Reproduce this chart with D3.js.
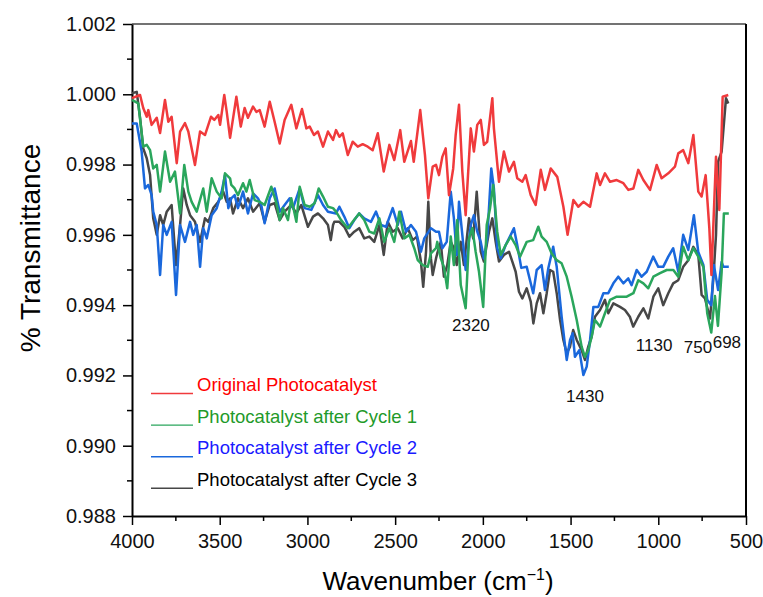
<!DOCTYPE html>
<html>
<head>
<meta charset="utf-8">
<script src="https://cdn.jsdelivr.net/npm/d3@7"></script>
<style>
  body { margin: 0; background: #fff; }
  text { font-family: Arial, "Liberation Sans", sans-serif; }
</style>
</head>
<body>
<svg id="chart"></svg>
<script>
// [wavenumber, transmittance]
var original = [[4000,0.99989],[3954,0.99998],[3936,0.99961],[3916,0.99936],[3907,0.99955],[3888,0.99913],[3859,0.99933],[3840,0.99890],[3812,0.99984],[3793,0.99922],[3774,0.99936],[3745,0.99804],[3726,0.99894],[3698,0.99918],[3679,0.99894],[3641,0.99799],[3612,0.99894],[3584,0.99884],[3550,0.99936],[3531,0.99927],[3508,0.99941],[3498,0.99913],[3474,0.99998],[3460,0.99950],[3441,0.99876],[3405,0.99993],[3380,0.99908],[3358,0.99961],[3339,0.99933],[3310,0.99965],[3291,0.99950],[3272,0.99955],[3244,0.99908],[3215,0.99979],[3187,0.99922],[3158,0.99860],[3130,0.99927],[3092,0.99970],[3063,0.99903],[3031,0.99958],[3006,0.99903],[2987,0.99908],[2963,0.99884],[2940,0.99894],[2911,0.99851],[2883,0.99894],[2854,0.99870],[2837,0.99898],[2818,0.99879],[2799,0.99889],[2770,0.99827],[2742,0.99865],[2713,0.99851],[2685,0.99858],[2656,0.99851],[2628,0.99841],[2599,0.99889],[2565,0.99780],[2533,0.99856],[2505,0.99813],[2471,0.99898],[2448,0.99808],[2410,0.99867],[2394,0.99808],[2357,0.99955],[2330,0.99827],[2311,0.99704],[2286,0.99794],[2267,0.99799],[2250,0.99770],[2231,0.99822],[2212,0.99846],[2193,0.99713],[2169,0.99789],[2155,0.99884],[2136,0.99970],[2117,0.99780],[2098,0.99656],[2069,0.99903],[2051,0.99837],[2032,0.99913],[2012,0.99927],[1994,0.99856],[1975,0.99865],[1946,0.99989],[1937,0.99903],[1908,0.99751],[1880,0.99837],[1851,0.99780],[1823,0.99808],[1804,0.99761],[1775,0.99751],[1756,0.99770],[1727,0.99713],[1699,0.99685],[1670,0.99785],[1646,0.99728],[1613,0.99789],[1576,0.99765],[1541,0.99680],[1517,0.99600],[1484,0.99699],[1456,0.99680],[1427,0.99694],[1389,0.99680],[1351,0.99775],[1332,0.99742],[1304,0.99775],[1275,0.99751],[1237,0.99756],[1199,0.99747],[1171,0.99728],[1142,0.99732],[1114,0.99785],[1085,0.99756],[1047,0.99728],[1009,0.99799],[981,0.99761],[943,0.99775],[905,0.99794],[886,0.99832],[858,0.99841],[829,0.99804],[800,0.99884],[772,0.99723],[753,0.99709],[730,0.99770],[709,0.99619],[697,0.99486],[671,0.99822],[652,0.99671],[633,0.99993],[601,0.99998]];

var cycle1 = [[4000,0.99984],[3964,0.99974],[3936,0.99851],[3916,0.99856],[3897,0.99841],[3879,0.99789],[3859,0.99799],[3840,0.99723],[3812,0.99837],[3783,0.99751],[3755,0.99780],[3726,0.99661],[3702,0.99799],[3679,0.99723],[3660,0.99694],[3631,0.99666],[3594,0.99732],[3574,0.99666],[3546,0.99761],[3517,0.99723],[3489,0.99704],[3470,0.99775],[3441,0.99761],[3434,0.99742],[3415,0.99732],[3396,0.99713],[3367,0.99747],[3348,0.99723],[3329,0.99756],[3301,0.99699],[3272,0.99694],[3244,0.99685],[3206,0.99737],[3177,0.99690],[3158,0.99642],[3139,0.99676],[3111,0.99642],[3092,0.99704],[3063,0.99637],[3044,0.99737],[3016,0.99685],[2987,0.99680],[2959,0.99690],[2936,0.99732],[2911,0.99709],[2883,0.99680],[2854,0.99676],[2837,0.99666],[2808,0.99642],[2770,0.99619],[2742,0.99637],[2705,0.99661],[2676,0.99642],[2647,0.99609],[2619,0.99604],[2590,0.99647],[2562,0.99580],[2533,0.99619],[2505,0.99580],[2476,0.99666],[2448,0.99590],[2419,0.99600],[2391,0.99562],[2371,0.99528],[2343,0.99514],[2314,0.99509],[2296,0.99547],[2267,0.99562],[2260,0.99580],[2240,0.99533],[2222,0.99509],[2203,0.99448],[2183,0.99595],[2165,0.99514],[2146,0.99642],[2126,0.99457],[2098,0.99391],[2079,0.99590],[2060,0.99619],[2041,0.99552],[2022,0.99495],[1998,0.99395],[1978,0.99628],[1959,0.99676],[1941,0.99742],[1918,0.99609],[1898,0.99543],[1870,0.99571],[1841,0.99595],[1813,0.99571],[1788,0.99538],[1750,0.99580],[1713,0.99585],[1684,0.99623],[1665,0.99595],[1636,0.99580],[1608,0.99547],[1579,0.99528],[1551,0.99519],[1522,0.99481],[1494,0.99424],[1465,0.99358],[1437,0.99282],[1418,0.99253],[1399,0.99272],[1380,0.99310],[1361,0.99358],[1332,0.99339],[1304,0.99377],[1275,0.99415],[1237,0.99424],[1180,0.99424],[1142,0.99434],[1114,0.99471],[1085,0.99462],[1057,0.99448],[1028,0.99481],[990,0.99491],[952,0.99500],[914,0.99500],[886,0.99481],[858,0.99566],[829,0.99528],[800,0.99562],[772,0.99538],[743,0.99509],[721,0.99377],[698,0.99322],[677,0.99426],[660,0.99341],[639,0.99493],[626,0.99661],[598,0.99661]];

var cycle2 = [[4000,0.99917],[3973,0.99917],[3945,0.99837],[3926,0.99732],[3907,0.99742],[3888,0.99713],[3879,0.99666],[3859,0.99628],[3840,0.99486],[3822,0.99628],[3802,0.99600],[3774,0.99637],[3749,0.99429],[3726,0.99628],[3698,0.99580],[3669,0.99637],[3651,0.99600],[3631,0.99628],[3612,0.99509],[3594,0.99619],[3574,0.99590],[3546,0.99656],[3517,0.99676],[3489,0.99723],[3470,0.99770],[3451,0.99676],[3434,0.99704],[3415,0.99713],[3396,0.99676],[3367,0.99723],[3339,0.99661],[3310,0.99718],[3282,0.99704],[3263,0.99685],[3244,0.99633],[3215,0.99704],[3187,0.99732],[3158,0.99666],[3130,0.99685],[3101,0.99704],[3082,0.99676],[3044,0.99732],[3016,0.99676],[2978,0.99671],[2940,0.99713],[2911,0.99685],[2883,0.99666],[2837,0.99661],[2818,0.99680],[2790,0.99652],[2761,0.99619],[2733,0.99642],[2705,0.99661],[2676,0.99647],[2638,0.99637],[2609,0.99666],[2581,0.99628],[2552,0.99623],[2514,0.99676],[2485,0.99628],[2467,0.99666],[2438,0.99609],[2410,0.99628],[2381,0.99609],[2353,0.99552],[2334,0.99590],[2296,0.99619],[2267,0.99609],[2250,0.99609],[2231,0.99562],[2206,0.99580],[2183,0.99723],[2165,0.99647],[2149,0.99543],[2136,0.99694],[2117,0.99600],[2098,0.99500],[2069,0.99628],[2051,0.99656],[2032,0.99609],[2012,0.99580],[1994,0.99533],[1975,0.99590],[1952,0.99789],[1937,0.99732],[1918,0.99562],[1898,0.99533],[1870,0.99571],[1841,0.99600],[1823,0.99619],[1804,0.99571],[1781,0.99506],[1750,0.99509],[1713,0.99434],[1693,0.99500],[1665,0.99514],[1646,0.99443],[1627,0.99505],[1599,0.99566],[1579,0.99509],[1551,0.99367],[1522,0.99244],[1503,0.99301],[1488,0.99320],[1475,0.99253],[1450,0.99272],[1427,0.99201],[1408,0.99225],[1389,0.99301],[1370,0.99395],[1342,0.99395],[1313,0.99434],[1285,0.99434],[1256,0.99462],[1228,0.99481],[1199,0.99462],[1171,0.99476],[1152,0.99457],[1123,0.99500],[1095,0.99481],[1066,0.99495],[1029,0.99538],[1000,0.99509],[972,0.99509],[943,0.99538],[915,0.99562],[886,0.99495],[858,0.99600],[829,0.99557],[797,0.99656],[772,0.99551],[743,0.99514],[721,0.99415],[698,0.99400],[683,0.99514],[659,0.99443],[639,0.99523],[629,0.99509],[598,0.99509]];

var cycle3 = [[4000,1.00003],[3973,1.00007],[3954,0.99932],[3936,0.99846],[3916,0.99818],[3897,0.99770],[3879,0.99647],[3859,0.99600],[3840,0.99656],[3822,0.99628],[3802,0.99666],[3774,0.99685],[3749,0.99514],[3726,0.99628],[3708,0.99732],[3688,0.99685],[3669,0.99656],[3641,0.99637],[3612,0.99580],[3584,0.99647],[3565,0.99637],[3537,0.99676],[3508,0.99694],[3480,0.99723],[3460,0.99694],[3441,0.99704],[3424,0.99661],[3396,0.99704],[3367,0.99676],[3339,0.99704],[3310,0.99666],[3272,0.99690],[3244,0.99637],[3215,0.99685],[3187,0.99690],[3158,0.99642],[3130,0.99666],[3092,0.99685],[3063,0.99661],[3035,0.99685],[2997,0.99623],[2968,0.99652],[2940,0.99661],[2911,0.99647],[2883,0.99628],[2867,0.99585],[2854,0.99628],[2847,0.99637],[2818,0.99637],[2790,0.99623],[2761,0.99595],[2733,0.99609],[2705,0.99619],[2676,0.99590],[2647,0.99595],[2619,0.99580],[2590,0.99628],[2565,0.99543],[2542,0.99637],[2514,0.99609],[2485,0.99619],[2457,0.99590],[2428,0.99619],[2400,0.99585],[2376,0.99595],[2353,0.99524],[2340,0.99452],[2324,0.99552],[2311,0.99694],[2296,0.99533],[2286,0.99486],[2267,0.99533],[2260,0.99547],[2240,0.99580],[2222,0.99481],[2203,0.99514],[2183,0.99580],[2165,0.99562],[2149,0.99514],[2126,0.99580],[2108,0.99514],[2079,0.99647],[2055,0.99590],[2035,0.99723],[2012,0.99552],[1994,0.99524],[1965,0.99609],[1946,0.99647],[1927,0.99580],[1908,0.99524],[1880,0.99543],[1851,0.99552],[1832,0.99524],[1813,0.99495],[1794,0.99438],[1775,0.99419],[1750,0.99448],[1727,0.99410],[1712,0.99348],[1693,0.99405],[1674,0.99434],[1655,0.99377],[1636,0.99434],[1617,0.99500],[1599,0.99495],[1579,0.99434],[1560,0.99358],[1541,0.99301],[1522,0.99263],[1503,0.99282],[1485,0.99329],[1465,0.99301],[1437,0.99272],[1418,0.99244],[1399,0.99282],[1380,0.99310],[1361,0.99367],[1332,0.99386],[1304,0.99415],[1285,0.99377],[1256,0.99405],[1218,0.99395],[1190,0.99386],[1162,0.99367],[1143,0.99339],[1114,0.99367],[1085,0.99391],[1057,0.99362],[1028,0.99424],[1000,0.99448],[972,0.99400],[943,0.99434],[915,0.99462],[886,0.99471],[858,0.99509],[829,0.99528],[800,0.99566],[772,0.99543],[753,0.99429],[734,0.99419],[705,0.99362],[686,0.99476],[671,0.99600],[659,0.99808],[639,0.99837],[614,0.99989],[601,0.99974]];

var seriesNames = ["Original Photocatalyst", "Photocatalyst after Cycle 1", "Photocatalyst after Cycle 2", "Photocatalyst after Cycle 3"];
var lineColors = ["#f03a3c", "#2aa65c", "#1a68dc", "#474747"];
var legendColors = ["#ff0000", "#1f9a2a", "#1a1aff", "#000000"];

var xTicks = [4000, 3500, 3000, 2500, 2000, 1500, 1000, 500];
var yTicks = [0.988, 0.990, 0.992, 0.994, 0.996, 0.998, 1.000, 1.002];

// peak labels: text, wavenumber of label centre, transmittance of label baseline
var peakLabels = [["2320", 2068, 0.99326], ["1430", 1418, 0.99124], ["1130", 1024, 0.99269], ["750", 774, 0.99264], ["698", 609, 0.99278]];

var width = 763, height = 597;
var margin = {top: 24, right: 17, bottom: 81, left: 132};

var svg = d3.select("#chart")
    .attr("width", width)
    .attr("height", height);

var x = d3.scaleLinear().domain([4000, 500]).range([margin.left, width - margin.right]);
var y = d3.scaleLinear().domain([0.988, 1.002]).range([height - margin.bottom, margin.top]);

// frame top / right
svg.append("line")
    .attr("x1", margin.left).attr("x2", width - margin.right)
    .attr("y1", margin.top).attr("y2", margin.top)
    .attr("stroke", "#444").attr("stroke-width", 1.3);
svg.append("line")
    .attr("x1", width - margin.right).attr("x2", width - margin.right)
    .attr("y1", margin.top).attr("y2", height - margin.bottom)
    .attr("stroke", "#000").attr("stroke-width", 2);

// minor ticks
var xMinor = d3.range(3750, 500, -500);
var yMinor = d3.range(0.989, 1.002, 0.002);

var xAxis = d3.axisBottom(x).tickValues(xTicks).tickSize(9).tickSizeOuter(0).tickPadding(5)
    .tickFormat(d3.format("d"));
var gx = svg.append("g")
    .attr("transform", "translate(0," + (height - margin.bottom) + ")")
    .call(xAxis);
gx.append("g").selectAll("line").data(xMinor).enter().append("line")
    .attr("x1", function(d) { return x(d); }).attr("x2", function(d) { return x(d); })
    .attr("y1", 0).attr("y2", 5).attr("stroke", "#000").attr("stroke-width", 1.5);

var yAxis = d3.axisLeft(y).tickValues(yTicks).tickSize(9).tickSizeOuter(0).tickPadding(7)
    .tickFormat(d3.format(".3f"));
var gy = svg.append("g")
    .attr("transform", "translate(" + margin.left + ",0)")
    .call(yAxis);
gy.append("g").selectAll("line").data(yMinor).enter().append("line")
    .attr("y1", function(d) { return y(d); }).attr("y2", function(d) { return y(d); })
    .attr("x1", 0).attr("x2", -5).attr("stroke", "#000").attr("stroke-width", 1.5);

[gx, gy].forEach(function(g) {
  g.select(".domain").attr("stroke", "#000").attr("stroke-width", 2);
  g.selectAll(".tick line").attr("stroke", "#000").attr("stroke-width", 1.5);
  g.selectAll(".tick text").attr("fill", "#111")
    .style("font-size", "20px").style("font-family", "Arial, 'Liberation Sans', sans-serif");
});
gx.selectAll(".tick text").attr("dy", "0.9em");

// spectra, drawn back to front
var line = d3.line()
    .x(function(d) { return x(d[0]); })
    .y(function(d) { return y(d[1]); });

var allSeries = [original, cycle1, cycle2, cycle3];
[3, 2, 1, 0].forEach(function(i) {
  svg.append("path")
    .datum(allSeries[i])
    .attr("fill", "none")
    .attr("stroke", lineColors[i])
    .attr("stroke-width", 2.5)
    .attr("stroke-linejoin", "round")
    .attr("d", line);
});

// peak labels
svg.append("g").selectAll("text")
  .data(peakLabels)
  .enter().append("text")
    .attr("x", function(d) { return x(d[1]); })
    .attr("y", function(d) { return y(d[2]); })
    .attr("text-anchor", "middle")
    .style("font-size", "17px")
    .attr("fill", "#111")
    .text(function(d) { return d[0]; });

// legend
var legend = svg.append("g").attr("transform", "translate(151,391)");
var rows = legend.selectAll("g").data(seriesNames).enter().append("g")
    .attr("transform", function(d, i) { return "translate(0," + (i * 31.6) + ")"; });
rows.append("line")
    .attr("x1", 0).attr("x2", 42).attr("y1", 2.5).attr("y2", 2.5)
    .attr("stroke", function(d, i) { return lineColors[i]; })
    .attr("stroke-width", 1.4);
rows.append("text")
    .attr("x", 46).attr("y", 0)
    .style("font-size", "18.5px")
    .attr("fill", function(d, i) { return legendColors[i]; })
    .text(function(d) { return d; });

// axis titles
svg.append("text")
    .attr("x", 438).attr("y", 590)
    .attr("text-anchor", "middle")
    .style("font-size", "26px")
    .attr("fill", "#000")
    .text("Wavenumber (cm")
  .append("tspan").attr("dy", -10).style("font-size", "16px").text("\u22121")
  .select(function() { return this.parentNode; })
  .append("tspan").attr("dy", 10).text(")");

svg.append("text")
    .attr("transform", "translate(40,248) rotate(-90)")
    .attr("text-anchor", "middle")
    .style("font-size", "28px")
    .attr("fill", "#000")
    .text("% Transmittance");
</script>
</body>
</html>
